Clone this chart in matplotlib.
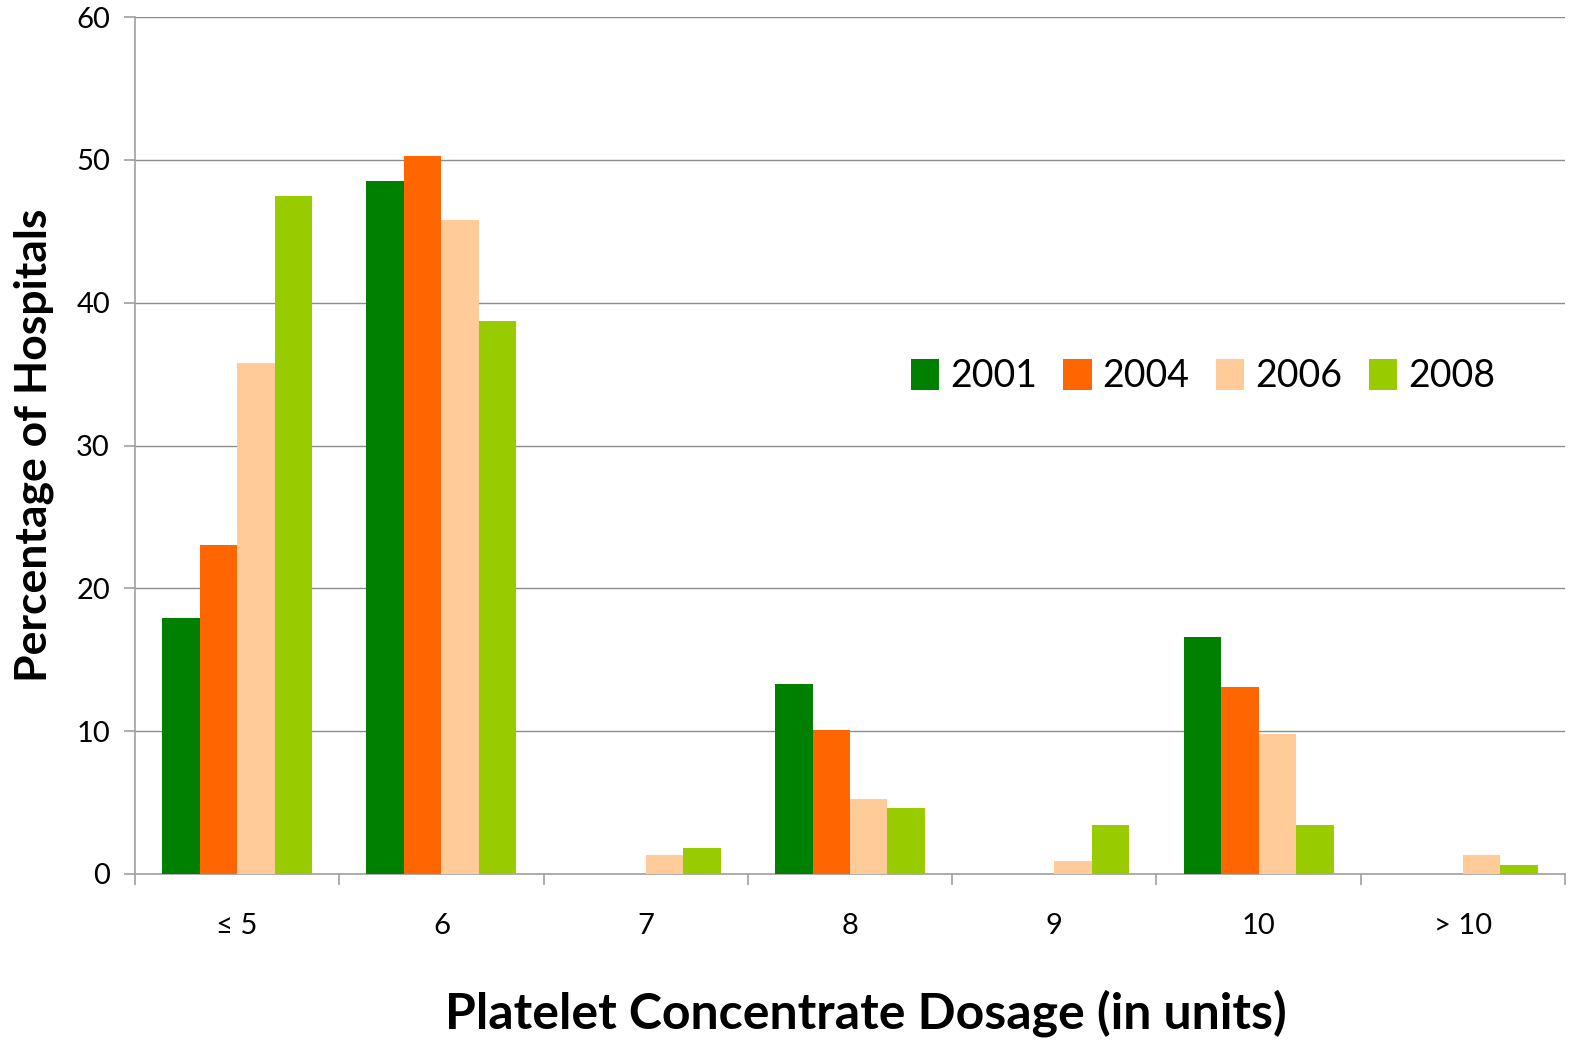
import matplotlib
matplotlib.use("Agg")
import matplotlib.pyplot as plt
import numpy as np

categories = ["\u2264 5", "6", "7", "8", "9", "10", "> 10"]
years = ["2001", "2004", "2006", "2008"]
v2001 = [17.9, 48.5, 0, 13.3, 0, 16.6, 0]
v2004 = [23.0, 50.3, 0, 10.1, 0, 13.1, 0]
v2006 = [35.8, 45.8, 1.3, 5.25, 0.9, 9.8, 1.3]
v2008 = [47.5, 38.7, 1.8, 4.6, 3.4, 3.4, 0.6]
colors = ["#008000", "#FF6600", "#FFCC99", "#99CC00"]

plt.rcParams['font.family'] = ['Lato', 'DejaVu Sans']

fig = plt.figure(figsize=(15.75, 10.45), dpi=100)
ax = fig.add_axes([135/1575, 1 - 874/1045, (1565-135)/1575, (874-17)/1045])

x = np.arange(len(categories))
w = 0.1835
for i, (vals, c, yr) in enumerate(zip([v2001, v2004, v2006, v2008], colors, years)):
    ax.bar(x + (i - 1.5) * w, vals, width=w, color=c, label=yr, zorder=3)

ax.set_xlim(-0.5, len(categories) - 0.5)
ax.set_ylim(0, 60)
ax.set_yticks(np.arange(0, 61, 10))
ax.yaxis.grid(True, color="#8c8c8c", linewidth=1.0, zorder=0)
ax.set_axisbelow(True)

for s in ["top", "right"]:
    ax.spines[s].set_visible(False)
for s in ["left", "bottom"]:
    ax.spines[s].set_color("#a0a0a0")
    ax.spines[s].set_linewidth(1.2)

ax.set_xticks(x)
ax.set_xticklabels(categories, fontsize=21)
ax.set_xticks(np.arange(-0.5, len(categories)), minor=True)
ax.tick_params(axis="x", which="major", length=0, pad=28)
ax.tick_params(axis="x", which="minor", length=8, color="#a0a0a0", width=1.2)
ax.tick_params(axis="y", length=8, color="#a0a0a0", width=1.2, labelsize=21, pad=10)

ax.set_ylabel("Percentage of Hospitals", fontsize=32, fontweight="bold", labelpad=16)
ax.set_xlabel("Platelet Concentrate Dosage (in units)", fontsize=36, fontweight="bold",
              labelpad=36, x=0.511)

leg = ax.legend(loc="center", bbox_to_anchor=(1203/1575, 1 - 376/1045),
                bbox_transform=fig.transFigure, ncol=4, frameon=False,
                fontsize=27, handlelength=0.75, handleheight=0.9,
                handletextpad=0.3, columnspacing=0.7)

fig.savefig("out.png", dpi=100)
